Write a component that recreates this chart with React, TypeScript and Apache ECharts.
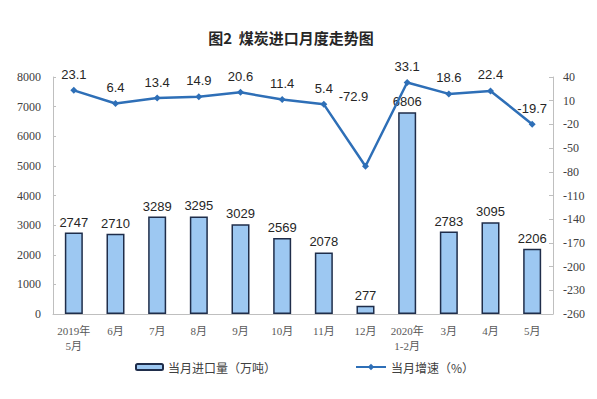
import React, { useEffect, useRef } from "react";
import * as echarts from "echarts";

const categories = ["2019年\n5月", "6月", "7月", "8月", "9月", "10月", "11月", "12月", "2020年\n1-2月", "3月", "4月", "5月"];
const importVolume = [2747, 2710, 3289, 3295, 3029, 2569, 2078, 277, 6806, 2783, 3095, 2206];
const growthRate = [23.1, 6.4, 13.4, 14.9, 20.6, 11.4, 5.4, -72.9, 33.1, 18.6, 22.4, -19.7];
const rightTicks = [-260, -230, -200, -170, -140, -110, -80, -50, -20, 10, 40];
const barName = "当月进口量（万吨）";
const lineName = "当月增速（%）";

export default function App() {
  const ref = useRef<HTMLDivElement>(null);
  useEffect(() => {
    const chart = echarts.init(ref.current!, null, { renderer: "svg" });
    const serif = "'Liberation Serif', 'Noto Sans CJK SC', serif";
    const sans = "'Liberation Sans', Arial, sans-serif";
    chart.setOption({
      animation: false,
      backgroundColor: "#ffffff",
      title: {
        text: "图2  煤炭进口月度走势图",
        left: 286,
        textAlign: "center",
        top: 25,
        textStyle: { fontFamily: "'Noto Sans CJK SC', sans-serif", fontSize: 15, fontWeight: "bold", color: "#262626" },
      },
      legend: [
        {
          left: 130,
          top: 356,
          data: [barName],
          itemWidth: 27,
          itemHeight: 6,
          itemGap: 4,
          textStyle: { fontFamily: "'Noto Sans CJK SC', sans-serif", fontSize: 12, color: "#404040" },
        },
        {
          left: 350,
          top: 356,
          data: [lineName],
          itemWidth: 30,
          itemHeight: 8,
          textStyle: { fontFamily: "'Noto Sans CJK SC', sans-serif", fontSize: 12, color: "#404040" },
        },
      ],
      grid: { left: 53, right: 44, top: 77, bottom: 85 },
      xAxis: {
        type: "category",
        data: categories,
        axisLine: { lineStyle: { color: "#bfbfbf" } },
        axisTick: { inside: true, length: 3, lineStyle: { color: "#bfbfbf" } },
        axisLabel: { fontFamily: serif, fontSize: 11, color: "#595959", lineHeight: 15, margin: 9, interval: 0 },
      },
      yAxis: [
        {
          type: "value",
          min: 0,
          max: 8000,
          interval: 1000,
          splitLine: { show: false },
          axisLine: { show: true, lineStyle: { color: "#bfbfbf" } },
          axisTick: { show: true, inside: true, length: 3, lineStyle: { color: "#bfbfbf" } },
          axisLabel: { fontFamily: serif, fontSize: 12, color: "#404040", margin: 12, formatter: (v: number) => String(v) },
        },
        {
          type: "value",
          min: -260,
          max: 40,
          splitNumber: 10,
          splitLine: { show: false },
          axisLine: { show: true, lineStyle: { color: "#bfbfbf" } },
          axisTick: { show: true, inside: true, length: 4, customValues: rightTicks, lineStyle: { color: "#bfbfbf" } },
          axisLabel: { fontFamily: serif, fontSize: 12, color: "#404040", margin: 10, customValues: rightTicks, formatter: (v: number) => String(v) },
        },
      ],
      series: [
        {
          name: barName,
          type: "bar",
          data: importVolume,
          barWidth: 18,
          itemStyle: { color: "#9dc8f2", borderColor: "#1f2d4a", borderWidth: 1.5 },
          label: { show: true, position: "top", distance: 4, fontFamily: sans, fontSize: 13, color: "#262626" },
        },
        {
          name: lineName,
          type: "line",
          yAxisIndex: 1,
          data: growthRate.map((v, i) =>
            i === 7 ? { value: v, label: { offset: [-12, -54] } } : v
          ),
          symbol: "diamond",
          symbolSize: 7,
          lineStyle: { color: "#2e6fb7", width: 2.5 },
          itemStyle: { color: "#2e6fb7" },
          label: { show: true, position: "top", distance: 6, fontFamily: sans, fontSize: 13, color: "#262626" },
        },
      ],
    });
    return () => chart.dispose();
  }, []);
  return <div ref={ref} style={{ width: 597, height: 399, position: "absolute", left: 0, top: 0 }} />;
}
